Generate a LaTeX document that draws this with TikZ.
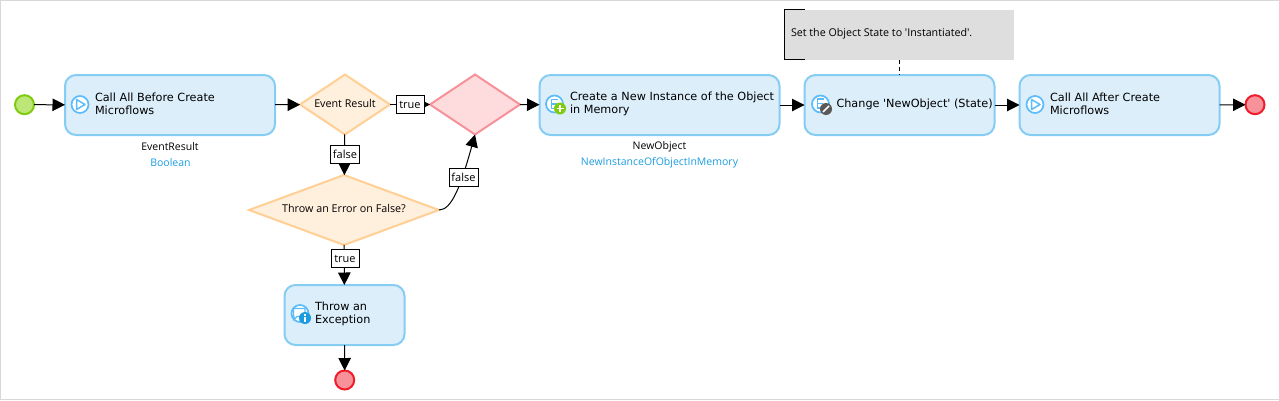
\documentclass[tikz,border=0pt]{standalone}
\usepackage{fontspec}
\newfontfamily\actfont{DejaVu Sans}
\newfontfamily\labelfont{Open Sans}
\usetikzlibrary{arrows.meta,shapes.geometric}
\definecolor{boxline}{HTML}{86CDF3}
\definecolor{boxfill}{HTML}{DBEEFA}
\definecolor{orline}{HTML}{FFCF94}
\definecolor{orfill}{HTML}{FFEFDD}
\definecolor{pkline}{HTML}{F6919A}
\definecolor{pkfill}{HTML}{FEDCDE}
\definecolor{stline}{HTML}{7FCC0E}
\definecolor{stfill}{HTML}{BCE678}
\definecolor{enline}{HTML}{EF1D2C}
\definecolor{enfill}{HTML}{F8929A}
\definecolor{typeblue}{HTML}{1C9CE0}
\definecolor{iconblue}{HTML}{5CBBFB}
\definecolor{frame}{HTML}{D8D8D8}
\definecolor{notefill}{HTML}{DEDEDE}
\tikzset{
  x=1pt,y=-1pt,
  every node/.style={outer sep=0pt,inner sep=0pt},
  activity/.style={draw=boxline,fill=boxfill,line width=2pt,rounded corners=11pt,anchor=north west},
  startev/.style={circle,draw=stline,fill=stfill,line width=2pt,minimum size=19pt},
  endev/.style={circle,draw=enline,fill=enfill,line width=2pt,minimum size=19pt},
  decision/.style={diamond,draw=orline,fill=orfill,line width=2pt},
  merge/.style={diamond,draw=pkline,fill=pkfill,line width=2pt},
  flow/.style={draw=black,line width=1pt,-{Triangle[length=12.5pt,width=12.5pt]}},
  caselabel/.style={draw=black,fill=white,line width=1pt,font=\labelfont\fontsize{11}{13}\selectfont,minimum height=18pt},
  acttext/.style={font=\actfont\fontsize{11.25}{13}\selectfont,align=left,anchor=west},
  vartext/.style={font=\labelfont\fontsize{10.5}{13}\selectfont},
  dectext/.style={font=\labelfont\fontsize{10.75}{13}\selectfont},
  icon/.style={circle,draw=iconblue,fill=white,line width=1.7pt,minimum size=17pt},
  badge/.style={circle,minimum size=12pt}
}
\newcommand{\playmark}[2]{\draw[iconblue,line width=1.5pt,line join=round] (#1-3.5,#2-5)--(#1+5,#2)--(#1-3.5,#2+5)--cycle;}
\newcommand{\emark}[2]{\draw[iconblue,line width=1.3pt] (#1+3,#2-4.5)--(#1-3,#2-4.5)--(#1-3,#2+4.5)--(#1+3,#2+4.5) (#1-3,#2)--(#1+2,#2);}
\begin{document}
\begin{tikzpicture}
\useasboundingbox (0,0) rectangle (1279,400);
\draw[frame,line width=1pt] (1279,.5)--(.5,.5)--(.5,399.5)--(1279,399.5);

% note
\node[fill=notefill,minimum width=230pt,minimum height=50pt,anchor=north west] (note) at (784,9.5) {};
\node[font=\labelfont\fontsize{10.7}{13}\selectfont,anchor=west] (notetext) at (791,34) {Set the Object State to 'Instantiated'.};
\draw[black,line width=.8pt] (805,9.5)--(784,9.5)--(784,59.5)--(805,59.5);

% events
\node[startev] (start) at (24.5,104.7) {};
\node[endev] (end1) at (1255,104.7) {};
\node[endev] (end2) at (344.7,380) {};

% activities
\node[activity,minimum width=210pt,minimum height=60pt] (before) at (65,75) {};
\node[activity,minimum width=240pt,minimum height=60pt] (create) at (539.5,75) {};
\node[activity,minimum width=190pt,minimum height=60pt] (change) at (804.5,75) {};
\node[activity,minimum width=200pt,minimum height=60pt] (after) at (1019.5,75) {};
\node[activity,minimum width=120pt,minimum height=60pt] (throw) at (284.5,285) {};

% decisions
\node[decision,minimum width=90pt,minimum height=60pt,aspect=1.5] (event) at (345,104.5) {};
\node[dectext] (eventtext) at (345,103.5) {Event Result};
\node[merge,minimum width=90pt,minimum height=60pt,aspect=1.5] (mergenode) at (475,104.5) {};
\node[decision,minimum width=190pt,minimum height=70pt,aspect=2.7] (err) at (344,210) {};
\node[dectext] (errtext) at (344,208.5) {Throw an Error on False?};

% connectors
\draw[flow] (start) -- (before);
\draw[flow] (before) -- (event);
\draw[flow] (event) -- (mergenode);
\draw[flow] (event) -- (err);
\draw[flow] (err) -- (throw);
\draw[flow] (throw) -- (end2);
\draw[flow] (mergenode) -- (create);
\draw[flow] (create) -- (change);
\draw[flow] (change) -- (after);
\draw[flow] (after) -- (end1);
\draw[flow] (err.east) .. controls (452,210) and (461,185) .. (mergenode.south);
\draw[black,line width=.8pt,dash pattern=on 4pt off 3pt] (note.south -| 899,0) -- (change.north -| 899,0);

% connector labels
\node[caselabel,minimum width=28pt] (ltrue) at (410,104.5) {true};
\node[caselabel,minimum width=29pt] (lfalse) at (345,154.5) {false};
\node[caselabel,minimum width=29pt] (lfalse2) at (463.5,177.5) {false};
\node[caselabel,minimum width=28pt] (ltrue2) at (345,258.5) {true};

% activity texts
\node[acttext] (t1) at (95,104) {Call All Before Create\\Microflows};
\node[acttext] (t2) at (570,104) {Create a New Instance of the Object\\in Memory};
\node[acttext] (t3) at (836.5,104.5) {Change 'NewObject' (State)};
\node[acttext] (t4) at (1050,104) {Call All After Create\\Microflows};
\node[acttext] (t5) at (315,313.5) {Throw an\\Exception};

% variable labels
\node[vartext] (v1) at (170,147) {EventResult};
\node[vartext,text=typeblue] (v2) at (170.5,163) {Boolean};
\node[vartext] (v3) at (659.5,147) {NewObject};
\node[vartext,text=typeblue] (v4) at (659.5,163) {NewInstanceOfObjectInMemory};

% icons
\node[icon] (i1) at (80,104.5) {}; \playmark{80}{104.5}
\node[icon] (i4) at (1035,104.5) {}; \playmark{1035}{104.5}
\node[icon] (i2) at (554.5,104) {}; \emark{554.5}{104}
\node[badge,fill=stline] (b2) at (560,108.5) {};
\draw[white,line width=1.6pt] (b2.center)+(-3.5,0)--+(3.5,0) (b2.center)+(0,-3.5)--+(0,3.5);
\node[icon] (i3) at (820.5,104) {}; \emark{820.5}{103.5}
\node[badge,fill=black!65] (b3) at (826,109) {};
\draw[white,line width=1.6pt] (b3.center)+(-3,3)--+(3,-3);
\node[icon] (i5) at (300,313.5) {};
\draw[iconblue,line width=1.2pt,fill=white] (293.5,308.5)--(305,308.5)--(305,316.5)--(297,316.5)--(294,319.5)--(294,316.5)--(293.5,316.5)--cycle;
\node[badge,fill=typeblue] (b5) at (305,318) {};
\draw[white,line width=1.6pt] (305,316.5)--(305,321.5) (305,314)--(305,315.5);
\end{tikzpicture}
\end{document}
